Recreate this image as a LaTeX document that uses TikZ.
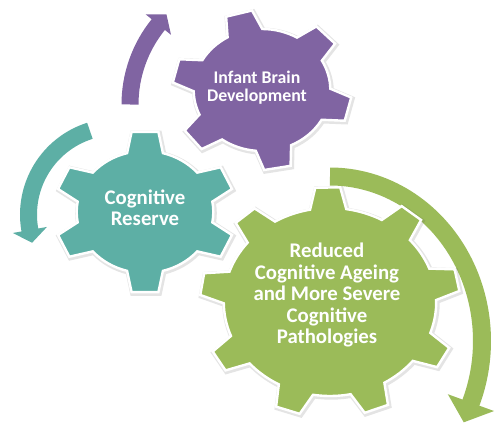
\documentclass[tikz,border=0pt]{standalone}
\usepackage{fontspec}
\setmainfont{Carlito}
\usetikzlibrary{arrows.meta}

\definecolor{infantpurple}{HTML}{8064A2}
\definecolor{reserveteal}{HTML}{5DAFA5}
\definecolor{ageinggreen}{HTML}{9BBB59}

% cog outline: #1 options, #2 tooth angles (ascending), #3 last tooth angle,
% #4 tip radius, #5 root radius, #6 half angle at the tip, #7 half angle at the root
\newcommand{\cog}[7][]{%
  \path[#1] (#3+#7-360:#5)
    \foreach \ang [remember=\ang as \prev (initially #3-360)] in {#2} {
      arc[start angle=\prev+#7, end angle=\ang-#7, radius=#5]
      -- (\ang-#6:#4) -- (\ang+#6:#4) -- (\ang+#7:#5)
    } -- cycle;
}

\begin{document}
\begin{tikzpicture}[x=1pt, y=1pt,
    cog/.style={draw=white, line width=2.4pt,
      preaction={draw=black!70, line width=5pt, opacity=.15,
        transform canvas={xshift=1pt, yshift=-1.2pt}}},
    cog text/.style={text=white, align=center},
    turn/.style={line width=17pt, line cap=butt}
  ]

    \useasboundingbox (0,0) rectangle (496,424);

    % centres of the three cogs
    \coordinate (infant-c)  at (262,334);
    \coordinate (reserve-c) at (145,212);
    \coordinate (ageing-c)  at (330,122);

    % curved arrows turning the cogs
    \coordinate (infant-turn)  at (130,319.5);
    \coordinate (reserve-turn) at (89.9,293.2);
    \coordinate (ageing-turn)  at (330,247.5);

    \draw[turn, infantpurple, -{Triangle[length=13pt, width=32pt]}]
        (infant-turn) arc[start angle=180, end angle=141, radius=127] -- ++(51:13);
    \draw[turn, reserveteal, -{Triangle[length=13pt, width=34pt]}]
        (reserve-turn) arc[start angle=107.6, end angle=190, radius=88] -- ++(280:13);
    \draw[turn, line width=18pt, ageinggreen, -{Triangle[length=21pt, width=48pt]}]
        (ageing-turn) arc[start angle=90, end angle=-22, x radius=152, y radius=164.5] -- ++(250:21);

    % the cogs
    \begin{scope}[shift={(infant-c)}, xscale=1.12]
        \cog[cog, fill=infantpurple]{-141,-80,-14,44,105,166}{166}{80}{61}{8.6}{15.2}
    \end{scope}
    \begin{scope}[shift={(ageing-c)}, xscale=1.13]
        \cog[cog, fill=ageinggreen]{-149,-109,-69,-29,11,51,91,131,171}{171}{115}{94}{5.5}{9.8}
    \end{scope}
    \begin{scope}[shift={(reserve-c)}, xscale=1.12]
        \cog[cog, fill=reserveteal]{-155,-90,-25,25,90,155}{155}{81}{61}{8.5}{15.2}
    \end{scope}

    % labels
    \node[cog text, font=\fontsize{17.8}{18}\selectfont\bfseries] (infant) at (257,336)
        {Infant Brain\\Development};
    \node[cog text, font=\fontsize{20.8}{21.5}\selectfont\bfseries] (reserve) at (145,216)
        {Cognitive\\Reserve};
    \node[cog text, font=\fontsize{20.8}{21.5}\selectfont\bfseries] (ageing) at (327,129)
        {Reduced\\Cognitive Ageing\\and More Severe\\Cognitive\\Pathologies};

\end{tikzpicture}
\end{document}
